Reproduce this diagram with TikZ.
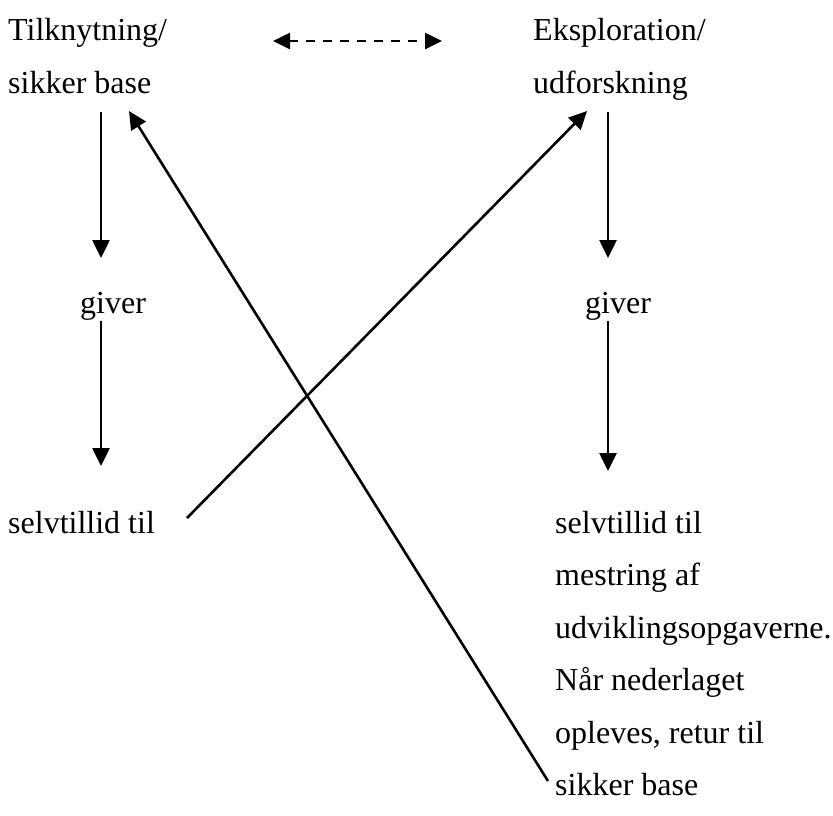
\documentclass[tikz,border=0pt]{standalone}
\usepackage{fontspec}
\setmainfont{Liberation Serif}
\usetikzlibrary{arrows.meta}

\tikzset{
  txt/.style={anchor=base west, inner sep=0pt, font=\fontsize{32}{40}\selectfont},
  link/.style={line width=2.6pt, -{Triangle[length=18pt,width=17pt]}},
  both/.style={line width=2.6pt, dash pattern=on 9pt off 8pt,
               {Triangle[length=17pt,width=16pt]}-{Triangle[length=17pt,width=16pt]}}
}

\begin{document}
\begin{tikzpicture}[x=1pt,y=-1pt]
  \useasboundingbox (0,0) rectangle (833,815);

  % left column
  \node[txt] (l1) at (8,40) {Tilknytning/};
  \node[txt] (l2) at (8,93) {sikker base};
  \node[txt] (lg) at (80,313) {giver};
  \node[txt] (ls) at (8,533) {selvtillid til};

  % right column
  \node[txt] (r1) at (533,40) {Eksploration/};
  \node[txt] (r2) at (533,93) {udforskning};
  \node[txt] (rg) at (585,313) {giver};
  \node[txt] (rs1) at (555,533) {selvtillid til};
  \node[txt] (rs2) at (555,585) {mestring af};
  \node[txt] (rs3) at (555,638) {udviklingsopgaverne.};
  \node[txt] (rs4) at (555,690) {Når nederlaget};
  \node[txt] (rs5) at (555,743) {opleves, retur til};
  \node[txt] (rs6) at (555,795) {sikker base};

  % connector end points
  \coordinate (dl) at (273,41);
  \coordinate (dr) at (442,41);
  \coordinate (la) at (101,112);
  \coordinate (lb) at (101,258);
  \coordinate (lc) at (101,321);
  \coordinate (ld) at (101,466);
  \coordinate (ra) at (608,112);
  \coordinate (rb) at (608,258);
  \coordinate (rc) at (608,321);
  \coordinate (rd) at (608,471);
  \coordinate (xs) at (187,518);
  \coordinate (xt) at (587,111);
  \coordinate (ys) at (548,781);
  \coordinate (yt) at (129,111);

  % arrows
  \draw[both] (dl) -- (dr);
  \draw[link] (la) -- (lb);
  \draw[link] (lc) -- (ld);
  \draw[link] (ra) -- (rb);
  \draw[link] (rc) -- (rd);
  \draw[link] (xs) -- (xt);
  \draw[link] (ys) -- (yt);
\end{tikzpicture}
\end{document}
